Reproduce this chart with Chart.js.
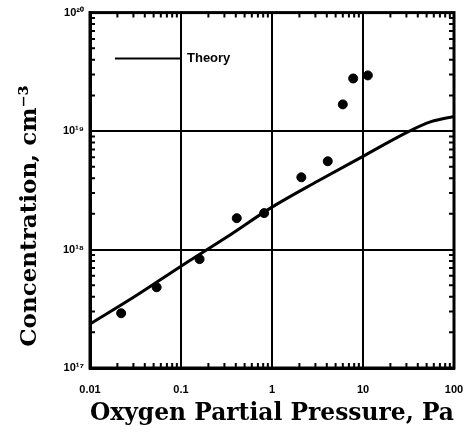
<!DOCTYPE html>
<html>
<head>
<meta charset="utf-8">
<script src="https://cdn.jsdelivr.net/npm/chart.js@4/dist/chart.umd.min.js"></script>
<style>
  html, body { margin: 0; padding: 0; background: #fff; }
  #wrap { width: 472px; height: 435px; position: relative; }
</style>
</head>
<body>
<div id="wrap"><canvas id="chart"></canvas></div>
<script>
// measured points (Pa, cm^-3)
const pressure = [0.022, 0.054, 0.16, 0.41, 0.82, 2.1, 4.1, 6.0, 7.8, 11.3];
const concentration = [2.9e17, 4.8e17, 8.3e17, 1.84e18, 2.03e18, 4.07e18, 5.56e18, 1.68e19, 2.78e19, 2.95e19];

// theory curve
const theoryPressure = [0.01, 0.0316, 0.1, 0.316, 1, 3.16, 10, 31.6, 56, 100];
const theoryConc = [2.35e17, 4.05e17, 7.24e17, 1.27e18, 2.28e18, 3.77e18, 6.12e18, 9.9e18, 1.2e19, 1.33e19];

const xTicks = [0.01, 0.1, 1, 10, 100];
const xTickLabels = ['0.01', '0.1', '1', '10', '100'];
const yTicks = [1e17, 1e18, 1e19, 1e20];
const yTickLabels = ['10\u00b9\u2077', '10\u00b9\u2078', '10\u00b9\u2079', '10\u00b2\u2070'];

const xTitle = 'Oxygen Partial Pressure, Pa';
const yTitle = 'Concentration, cm\u207b\u00b3';

const tickFont = { family: 'Liberation Sans', size: 11, weight: 'bold' };

// frame, inward minor ticks, legend and y title
const decor = {
    id: 'decor',
    afterDraw(chart) {
        const ctx = chart.ctx;
        const a = chart.chartArea;
        const xs = chart.scales.x, ys = chart.scales.y;
        ctx.save();
        ctx.strokeStyle = '#000';
        ctx.lineWidth = 2;
        ctx.beginPath();
        for (let d = -2; d < 2; d++) {
            for (let k = 2; k < 10; k++) {
                const px = xs.getPixelForValue(k * Math.pow(10, d));
                ctx.moveTo(px, a.bottom); ctx.lineTo(px, a.bottom - 5);
                ctx.moveTo(px, a.top); ctx.lineTo(px, a.top + 5);
            }
        }
        for (let d = 17; d < 20; d++) {
            for (let k = 2; k < 10; k++) {
                const py = ys.getPixelForValue(k * Math.pow(10, d));
                ctx.moveTo(a.left, py); ctx.lineTo(a.left + 5, py);
                ctx.moveTo(a.right, py); ctx.lineTo(a.right - 5, py);
            }
        }
        ctx.stroke();

        ctx.lineWidth = 3;
        ctx.strokeRect(a.left, a.top, a.right - a.left, a.bottom - a.top);

        // legend
        const ly = a.top + 46;
        ctx.lineWidth = 2;
        ctx.beginPath();
        ctx.moveTo(a.left + 25, ly); ctx.lineTo(a.left + 90, ly);
        ctx.stroke();
        ctx.fillStyle = '#000';
        ctx.font = 'bold 13px "Liberation Sans"';
        ctx.textBaseline = 'middle';
        ctx.fillText(chart.data.datasets[0].label, a.left + 97, ly);

        // y axis title
        ctx.translate(30, 216);
        ctx.rotate(-Math.PI / 2);
        ctx.textAlign = 'center';
        ctx.font = 'bold 23px "DejaVu Serif"';
        ctx.fillText(yTitle, 0, 0);
        ctx.restore();
    }
};

new Chart(document.getElementById('chart'), {
    type: 'scatter',
    data: {
        datasets: [
            {
                label: 'Theory',
                data: theoryPressure.map((p, i) => ({ x: p, y: theoryConc[i] })),
                showLine: true,
                borderColor: '#000',
                borderWidth: 3,
                pointRadius: 0,
                cubicInterpolationMode: 'monotone'
            },
            {
                label: 'Experiment',
                data: pressure.map((p, i) => ({ x: p, y: concentration[i] })),
                backgroundColor: '#000',
                borderColor: '#000',
                pointRadius: 4.5
            }
        ]
    },
    options: {
        responsive: true,
        maintainAspectRatio: false,
        animation: false,
        devicePixelRatio: 1,
        layout: { padding: { left: 8, right: 18, top: 12, bottom: 6 } },
        plugins: { legend: { display: false }, tooltip: { enabled: false } },
        scales: {
            x: {
                type: 'logarithmic',
                min: 0.01,
                max: 100,
                afterBuildTicks: s => { s.ticks = xTicks.map(v => ({ value: v })); },
                afterFit: s => {
                    s.height = 435 - 368 - 6;
                    s.paddingRight = 0;
                    s.paddingLeft = 0;
                },
                ticks: {
                    callback: (v, i) => xTickLabels[i],
                    font: tickFont, color: '#000',
                    maxRotation: 0, autoSkip: false, padding: 15
                },
                grid: { color: '#000', lineWidth: 2, drawTicks: false },
                border: { color: '#000', width: 3 },
                title: {
                    display: true, text: xTitle, color: '#000',
                    font: { family: 'DejaVu Serif', size: 25, weight: 'bold' },
                    padding: { top: 0, bottom: 1 }
                }
            },
            y: {
                type: 'logarithmic',
                min: 1e17,
                max: 1e20,
                afterBuildTicks: s => { s.ticks = yTicks.map(v => ({ value: v })); },
                afterFit: s => { s.width = 90 - 8; },
                ticks: {
                    callback: (v, i) => yTickLabels[i],
                    font: tickFont, color: '#000', padding: 6
                },
                grid: { color: '#000', lineWidth: 2, drawTicks: false },
                border: { color: '#000', width: 3 }
            }
        }
    },
    plugins: [decor]
});
</script>
</body>
</html>
